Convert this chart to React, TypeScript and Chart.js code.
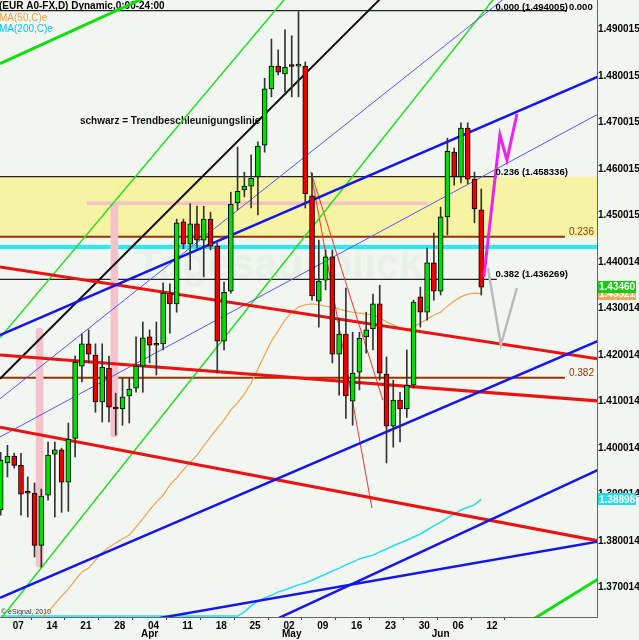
import React, { useEffect, useRef } from 'react';
import { Chart, registerables } from 'chart.js';

Chart.register(...registerables);

const FONT = '"Liberation Sans", Arial, Helvetica, sans-serif';
const BG = '#f1f6f0';
const UP = '#00e000';
const DOWN = '#f00000';

// ---- daily candles (index 0 = first visible day) ----
const OPEN = [1.3867, 1.3968, 1.3983, 1.3963, 1.3905, 1.3903, 1.3791, 1.3899, 1.3987, 1.3996,
  1.3927, 1.4021, 1.4176, 1.4224, 1.4200, 1.4099, 1.4172, 1.4086, 1.4084, 1.4112,
  1.4129, 1.4176, 1.4239, 1.4224, 1.4224, 1.4333, 1.4310, 1.4486, 1.4438, 1.4482,
  1.4447, 1.4492, 1.4434, 1.4230, 1.4337, 1.4527, 1.4555, 1.4563, 1.4583, 1.4651,
  1.4772, 1.4821, 1.4804, 1.4821, 1.4821, 1.4821, 1.4542, 1.4316, 1.4361, 1.4411,
  1.4202, 1.4245, 1.4101, 1.4163, 1.4239, 1.4256, 1.4310, 1.4159, 1.4047, 1.4103,
  1.4084, 1.4135, 1.4325, 1.4292, 1.4398, 1.4337, 1.4497, 1.4636, 1.4583, 1.4688,
  1.4578, 1.4512];
const HIGH = [1.3991, 1.4006, 1.3989, 1.3989, 1.3938, 1.3925, 1.3912, 1.4013, 1.4013, 1.4000,
  1.4054, 1.4198, 1.4245, 1.4254, 1.4224, 1.4224, 1.4198, 1.4118, 1.4150, 1.4150,
  1.4239, 1.4271, 1.4254, 1.4271, 1.4355, 1.4353, 1.4492, 1.4492, 1.4525, 1.4520,
  1.4520, 1.4507, 1.4441, 1.4357, 1.4550, 1.4647, 1.4593, 1.4630, 1.4658, 1.4795,
  1.4879, 1.4856, 1.4899, 1.4886, 1.4938, 1.4830, 1.4591, 1.4447, 1.4426, 1.4426,
  1.4279, 1.4344, 1.4249, 1.4249, 1.4292, 1.4331, 1.4350, 1.4196, 1.4146, 1.4120,
  1.4211, 1.4318, 1.4346, 1.4430, 1.4462, 1.4518, 1.4666, 1.4645, 1.4699, 1.4699,
  1.4593, 1.4557];
const LOW = [1.3856, 1.3938, 1.3957, 1.3856, 1.3852, 1.3766, 1.3744, 1.3888, 1.3852, 1.3862,
  1.3864, 1.3981, 1.4142, 1.4183, 1.4077, 1.4056, 1.4056, 1.4028, 1.4049, 1.4054,
  1.4120, 1.4120, 1.4183, 1.4157, 1.4211, 1.4247, 1.4292, 1.4428, 1.4383, 1.4430,
  1.4368, 1.4426, 1.4161, 1.4211, 1.4333, 1.4512, 1.4540, 1.4516, 1.4501, 1.4636,
  1.4755, 1.4802, 1.4765, 1.4755, 1.4755, 1.4516, 1.4318, 1.4260, 1.4340, 1.4183,
  1.4114, 1.4064, 1.4049, 1.4125, 1.4204, 1.4211, 1.4146, 1.3968, 1.4002, 1.4013,
  1.4066, 1.4129, 1.4260, 1.4275, 1.4318, 1.4329, 1.4458, 1.4565, 1.4570, 1.4568,
  1.4484, 1.4329];
const CLOSE = [1.3974, 1.3983, 1.3963, 1.3901, 1.3903, 1.3791, 1.3897, 1.3985, 1.3996, 1.3927,
  1.4019, 1.4185, 1.4224, 1.4202, 1.4099, 1.4174, 1.4088, 1.4084, 1.4110, 1.4127,
  1.4176, 1.4237, 1.4221, 1.4221, 1.4333, 1.4310, 1.4484, 1.4438, 1.4482, 1.4447,
  1.4492, 1.4434, 1.4230, 1.4335, 1.4524, 1.4552, 1.4563, 1.4580, 1.4649, 1.4772,
  1.4821, 1.4808, 1.4819, 1.4820, 1.4823, 1.4546, 1.4327, 1.4359, 1.4411, 1.4202,
  1.4245, 1.4112, 1.4161, 1.4236, 1.4254, 1.4310, 1.4161, 1.4047, 1.4103, 1.4084,
  1.4135, 1.4314, 1.4292, 1.4398, 1.4337, 1.4497, 1.4638, 1.4583, 1.4688, 1.4578,
  1.4514, 1.4346];

// ---- moving averages ----
const MA50_START = 5;
const MA50 = [1.3625, 1.3637, 1.3648, 1.3665, 1.3682, 1.3697, 1.3716, 1.3734, 1.3742, 1.3759,
  1.3775, 1.3787, 1.3796, 1.3805, 1.3813, 1.3830, 1.3848, 1.3867, 1.3884, 1.3899,
  1.3921, 1.3936, 1.3953, 1.3970, 1.3985, 1.4005, 1.4024, 1.4043, 1.4060, 1.4082,
  1.4097, 1.4116, 1.4140, 1.4170, 1.4200, 1.4230, 1.4252, 1.4275, 1.4292, 1.4303,
  1.4308, 1.4310, 1.4308, 1.4305, 1.4303, 1.4299, 1.4295, 1.4292, 1.4290, 1.4288,
  1.4286, 1.4280, 1.4271, 1.4265, 1.4258, 1.4254, 1.4260, 1.4269, 1.4277, 1.4286,
  1.4292, 1.4305, 1.4316, 1.4325, 1.4331, 1.4333, 1.4332];
const MA200_START = 0;
const MA200 = [1.3639, 1.3639, 1.3639, 1.3639, 1.3639, 1.3639, 1.3639, 1.3639, 1.3639, 1.3639,
  1.3639, 1.3639, 1.3639, 1.3639, 1.3639, 1.3639, 1.3639, 1.3639, 1.3639, 1.3639,
  1.3639, 1.3639, 1.3639, 1.3639, 1.3639, 1.3639, 1.3639, 1.3639, 1.3639, 1.3639,
  1.3639, 1.3639, 1.3639, 1.3639, 1.3639, 1.3639, 1.3648, 1.3661, 1.3671, 1.3678,
  1.3684, 1.3691, 1.3695, 1.3701, 1.3706, 1.3710, 1.3716, 1.3723, 1.3729, 1.3736,
  1.3742, 1.3749, 1.3755, 1.3762, 1.3766, 1.3770, 1.3777, 1.3783, 1.3790, 1.3796,
  1.3802, 1.3809, 1.3815, 1.3824, 1.3833, 1.3841, 1.3850, 1.3858, 1.3867, 1.3873,
  1.3878, 1.3890];
const LAST_PRICE_TEXT = '1.43460';
const MA50_LABEL = 1.433216;
const MA200_LABEL = 1.388988;

// ---- axes ----
const X_MIN = -0.1;
const X_MAX = 88.1;
const Y_MIN = 1.3637;
const Y_MAX = 1.4963;
const X_TICK_POS = [2, 7, 12, 17, 22, 27, 32, 37, 42, 47, 52, 57, 62, 67, 72];
const X_TICK_LABELS = ['07', '14', '21', '28', '04', '11', '18', '25', '02', '09', '16', '23', '30', '06', '12'];
const MONTHS = ['Apr', 'May', 'Jun'];
const MONTH_POS = [22, 43, 65];
const Y_TICKS = [1.490015, 1.480015, 1.470015, 1.460015, 1.450015, 1.440014, 1.430014,
  1.420014, 1.410014, 1.400014, 1.390014, 1.380014, 1.370014];

// ---- drawing tools (index, price) ----
type P = [number, number];
const BLACK_ACCEL: P[] = [[-0.1, 1.4149], [59.0, 1.5008]];
const GREEN_TOP: P[] = [[-0.1, 1.4826], [29.44, 1.5022]];
const GREEN_CH_UPPER: P[] = [[-0.1, 1.4237], [44.21, 1.5004]];
const GREEN_CH_LOWER: P[] = [[-0.1, 1.3631], [75.23, 1.5009]];
const GREEN_BR: P[] = [[78.19, 1.3628], [88.53, 1.3721]];
const BLUE_UPPER: P[] = [[-0.1, 1.4243], [88.53, 1.4800]];
const BLUE_LOWER: P[] = [[-0.1, 1.3678], [88.53, 1.4232]];
const BLUE_BR: P[] = [[39.78, 1.3626], [88.53, 1.3955]];
const BLUE_BOTTOM: P[] = [[23.53, 1.3635], [88.53, 1.3800]];
const BLUE_THIN_A: P[] = [[-0.1, 1.4024], [88.53, 1.4720]];
const BLUE_THIN_B: P[] = [[-0.1, 1.4106], [76.71, 1.4993]];
const RED_A: P[] = [[-0.1, 1.4389], [88.53, 1.4191]];
const RED_B: P[] = [[-0.1, 1.4200], [88.53, 1.4101]];
const RED_C: P[] = [[-0.1, 1.4045], [88.53, 1.3800]];
const RED_THIN_A: P[] = [[45.84, 1.4593], [56.47, 1.4103]];
const RED_THIN_B: P[] = [[45.84, 1.4593], [54.85, 1.3871]];
const MAGENTA_PATH: P[] = [[71.39, 1.4368], [73.76, 1.4673], [74.79, 1.4619], [76.27, 1.4718]];
const GRAY_PATH: P[] = [[71.98, 1.4387], [73.9, 1.4222], [76.27, 1.4344]];

// Fibonacci (black) levels
const FIB_LEVELS = [1.494005, 1.458336, 1.436269];
const FIB_NAMES = ['0.000', '0.236', '0.382'];
const FIB_END = [83.65, 73.3, 73.3];
const FIB_LABEL_X = 73.1;
// Fibonacci (brown) levels
const FIB2_LEVELS = [1.494005, 1.4454, 1.4151];
const FIB2_NAMES = ['0.000', '0.236', '0.382'];
const FIB2_END = 83.36;
const CYAN_LEVEL = 1.4432;
const YELLOW_TOP = 1.458336;
const YELLOW_BOTTOM = 1.4454;
const PINK_LEVEL = 1.4526;
const PINK_RANGE: P = [12.75, 63.1];
const PINK_BAR_X = [5.75, 16.8];
const PINK_BAR_LOW = [1.3744, 1.4024];
const PINK_BAR_HIGH = [1.4258, 1.4526];

const pts = (p: P[]) => p.map(([x, y]) => ({ x, y }));
const seg = (p: P[], color: string, width: number, order: number) => ({
  type: 'line' as const,
  data: pts(p),
  borderColor: color,
  borderWidth: width,
  pointRadius: 0,
  fill: false,
  tension: 0,
  order,
});

const overlay = {
  id: 'overlay',
  beforeDraw(chart: any) {
    const { ctx, width, height } = chart;
    ctx.save();
    ctx.fillStyle = BG;
    ctx.fillRect(0, 0, width, height);
    ctx.restore();
  },
  beforeDatasetsDraw(chart: any) {
    const { ctx } = chart;
    ctx.save();
    ctx.fillStyle = 'rgba(170,200,170,0.10)';
    ctx.font = `bold 42px ${FONT}`;
    ctx.textBaseline = 'middle';
    ctx.textAlign = 'left';
    ctx.fillText('Tagesausblick', 136, 266);
    ctx.font = `bold 10px ${FONT}`;
    ctx.fillStyle = '#000';
    ctx.fillText('(EUR A0-FX,D) Dynamic,0:00-24:00', -1, 6);
    ctx.font = `10px ${FONT}`;
    ctx.fillStyle = '#f0a040';
    ctx.fillText('MA(50,C)e', -1, 18);
    ctx.fillStyle = '#00c8e8';
    ctx.fillText('MA(200,C)e', -1, 29);
    ctx.font = `bold 10px ${FONT}`;
    ctx.fillStyle = '#111';
    ctx.fillText('schwarz = Trendbeschleunigungslinie', 80, 121);
    ctx.font = `7px ${FONT}`;
    ctx.fillStyle = '#333';
    ctx.fillText('\u00a9 eSignal, 2010', 1, 612);
    ctx.restore();
  },
  afterDraw(chart: any) {
    const { ctx } = chart;
    const xs = chart.scales.x;
    const ys = chart.scales.y;
    ctx.save();
    ctx.textBaseline = 'alphabetic';
    ctx.textAlign = 'left';
    // black fib labels
    ctx.font = `bold 9.5px ${FONT}`;
    FIB_LEVELS.forEach((lv, i) => {
      const y = ys.getPixelForValue(lv);
      const x = xs.getPixelForValue(FIB_LABEL_X);
      ctx.fillStyle = '#000';
      ctx.fillText(`${FIB_NAMES[i]} (${lv.toFixed(6)})`, x, Math.max(y - 2, 10));
    });
    // brown fib labels
    FIB2_LEVELS.forEach((lv, i) => {
      const y = ys.getPixelForValue(lv);
      const x = xs.getPixelForValue(FIB2_END) + 4;
      ctx.fillStyle = i === 0 ? '#000' : '#993300';
      ctx.font = i === 0 ? `bold 9.5px ${FONT}` : `10px ${FONT}`;
      ctx.fillText(FIB2_NAMES[i], x, Math.max(y - 2, 10));
    });
    // month labels
    ctx.font = `bold 10px ${FONT}`;
    ctx.fillStyle = '#000';
    ctx.textAlign = 'center';
    ctx.textBaseline = 'middle';
    MONTHS.forEach((m, i) => {
      ctx.fillText(m, xs.getPixelForValue(MONTH_POS[i]), 634);
    });
    // price boxes on the right axis
    const box = (v: number, text: string, color: string) => {
      const y = ys.getPixelForValue(v);
      ctx.fillStyle = color;
      ctx.fillRect(xs.right + 1, Math.round(y - 6), 38, 12);
      ctx.fillStyle = '#fff';
      ctx.textAlign = 'left';
      ctx.textBaseline = 'middle';
      ctx.font = `bold 10px ${FONT}`;
      ctx.fillText(text, xs.right + 2, y + 0.5);
    };
    box(MA50_LABEL, MA50_LABEL.toFixed(6), '#f2a860');
    box(CLOSE[CLOSE.length - 1], LAST_PRICE_TEXT, '#11cc11');
    box(MA200_LABEL, MA200_LABEL.toFixed(6), '#22dde8');
    ctx.restore();
  },
};

export default function App() {
  const ref = useRef<HTMLCanvasElement>(null);
  useEffect(() => {
    const canvas = ref.current;
    if (!canvas) return;
    const idx = OPEN.map((_, i) => i);
    const datasets: any[] = [];

    // yellow zone
    datasets.push({
      type: 'line',
      data: [{ x: -1, y: YELLOW_TOP }, { x: 90, y: YELLOW_TOP }],
      borderColor: 'rgba(0,0,0,0)',
      borderWidth: 0,
      pointRadius: 0,
      fill: { value: YELLOW_BOTTOM },
      backgroundColor: '#f6f3a2',
      order: 30,
    });
    // horizontal levels
    datasets.push(seg([[-1, CYAN_LEVEL], [90, CYAN_LEVEL]], '#22eef8', 4, 20));
    FIB2_LEVELS.forEach((lv, i) => {
      if (i > 0) datasets.push(seg([[-1, lv], [FIB2_END, lv]], '#993300', 2, 19));
    });
    FIB_LEVELS.forEach((lv, i) => {
      datasets.push(seg([[-1, lv], [FIB_END[i], lv]], '#222', 1.2, 18));
    });
    datasets.push(seg([[PINK_RANGE[0], PINK_LEVEL], [PINK_RANGE[1], PINK_LEVEL]], '#f3c2ca', 3.5, 17));
    // pink highlight bars
    datasets.push({
      type: 'bar',
      data: PINK_BAR_X.map((x, i) => ({ x, y: [PINK_BAR_LOW[i], PINK_BAR_HIGH[i]] })),
      backgroundColor: '#f3c2ca',
      borderWidth: 0,
      barThickness: 7,
      borderRadius: 3,
      borderSkipped: false,
      grouped: false,
      order: 16,
    });
    // moving averages
    datasets.push({
      type: 'line',
      data: MA200.map((v, i) => ({ x: MA200_START + i, y: v })),
      borderColor: '#22ddee', borderWidth: 1.5, pointRadius: 0, fill: false, tension: 0, order: 12,
    });
    datasets.push({
      type: 'line',
      data: MA50.map((v, i) => ({ x: MA50_START + i, y: v })),
      borderColor: '#f5a04a', borderWidth: 1.2, pointRadius: 0, fill: false, tension: 0, order: 11,
    });
    // trend lines
    datasets.push(seg(BLUE_THIN_A, '#5555ff', 1, 6));
    datasets.push(seg(BLUE_THIN_B, '#5555ff', 1, 6));
    datasets.push(seg(GREEN_CH_UPPER, '#22dd22', 1.5, 6));
    datasets.push(seg(GREEN_CH_LOWER, '#22dd22', 1.5, 6));
    datasets.push(seg(RED_THIN_A, '#ee3333', 1, 6));
    datasets.push(seg(RED_THIN_B, '#ee3333', 1, 6));
    datasets.push(seg(GREEN_TOP, '#11dd11', 3, 5));
    datasets.push(seg(GREEN_BR, '#11dd11', 3, 5));
    datasets.push(seg(BLUE_UPPER, '#1515ee', 2.5, 5));
    datasets.push(seg(BLUE_LOWER, '#1515ee', 2.5, 5));
    datasets.push(seg(BLUE_BR, '#1515ee', 2.5, 5));
    datasets.push(seg(BLUE_BOTTOM, '#1515ee', 2.5, 5));
    datasets.push(seg(RED_A, '#ee1111', 3, 5));
    datasets.push(seg(RED_B, '#ee1111', 3, 5));
    datasets.push(seg(RED_C, '#ee1111', 3, 5));
    datasets.push(seg(BLACK_ACCEL, '#111111', 2, 5));
    // candles
    datasets.push({
      type: 'bar',
      data: idx.map((i) => ({ x: i, y: [LOW[i], HIGH[i]] })),
      backgroundColor: '#333',
      borderWidth: 0,
      barThickness: 1,
      grouped: false,
      order: 3,
    });
    datasets.push({
      type: 'bar',
      data: idx.map((i) => ({ x: i, y: [OPEN[i], CLOSE[i]] })),
      backgroundColor: idx.map((i) => (CLOSE[i] >= OPEN[i] ? UP : DOWN)),
      borderColor: '#000',
      borderWidth: 1,
      borderSkipped: false,
      barThickness: 5,
      minBarLength: 2,
      grouped: false,
      order: 2,
    });
    // forecast paths
    datasets.push(seg(GRAY_PATH, '#bbbbbb', 2.5, 1));
    datasets.push(seg(MAGENTA_PATH, '#ee22ee', 3, 0));

    const chart = new Chart(canvas, {
      type: 'line',
      data: { datasets },
      options: {
        responsive: false,
        animation: false,
        devicePixelRatio: 1,
        events: [],
        layout: { autoPadding: false, padding: 0 },
        plugins: { legend: { display: false }, tooltip: { enabled: false } },
        scales: {
          x: {
            type: 'linear',
            min: X_MIN,
            max: X_MAX,
            position: 'bottom',
            offset: false,
            afterBuildTicks: (s: any) => { s.ticks = X_TICK_POS.map((v) => ({ value: v })); },
            afterFit: (s: any) => { s.height = 23; s.paddingLeft = 0; s.paddingRight = 0; },
            grid: { display: true, drawOnChartArea: false, drawTicks: true, tickLength: 3, color: '#444' },
            border: { display: true, color: '#666', width: 1 },
            ticks: {
              autoSkip: false, maxRotation: 0, minRotation: 0, padding: 0, labelOffset: 4,
              color: '#000', font: { family: FONT, size: 10, weight: 'bold' },
              callback: (_v: any, i: number) => X_TICK_LABELS[i] ?? '',
            },
          },
          y: {
            type: 'linear',
            position: 'right',
            min: Y_MIN,
            max: Y_MAX,
            afterBuildTicks: (s: any) => { s.ticks = Y_TICKS.map((v) => ({ value: v })); },
            afterFit: (s: any) => { s.width = 42; s.paddingTop = 0; s.paddingBottom = 0; },
            grid: { display: false, drawTicks: false },
            border: { display: true, color: '#666', width: 1 },
            ticks: {
              padding: 1, color: '#000', font: { family: FONT, size: 10, weight: 'bold' },
              callback: (v: any) => Number(v).toFixed(6),
            },
          },
        },
      } as any,
      plugins: [overlay],
    } as any);
    return () => chart.destroy();
  }, []);

  return (
    <div style={{ position: 'fixed', left: 0, top: 0, width: 639, height: 640, background: BG }}>
      <canvas ref={ref} width={639} height={640} style={{ display: 'block', width: 639, height: 640 }} />
    </div>
  );
}
